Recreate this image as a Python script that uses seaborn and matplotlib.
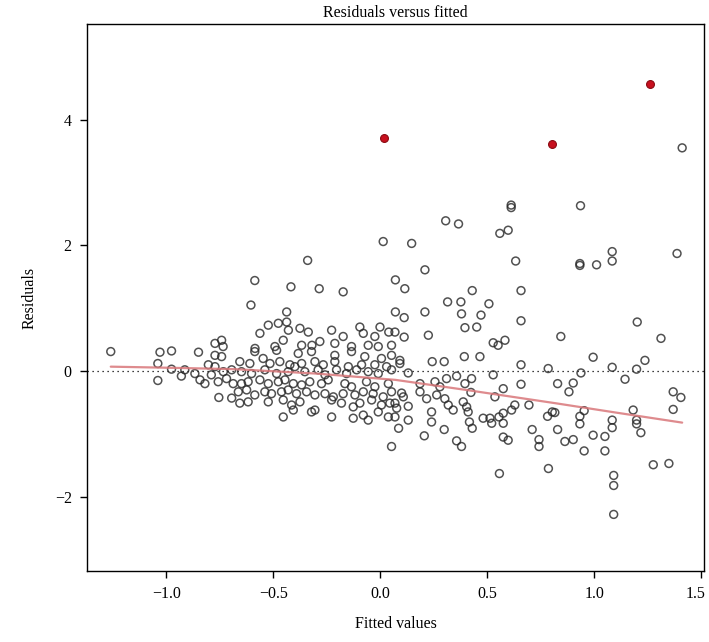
import matplotlib
matplotlib.use("Agg")
import matplotlib.pyplot as plt
import matplotlib.transforms as mtransforms
import seaborn as sns
import pandas as pd

# ---- data ----
fitted = [
    -1.26, -1.03, -0.976, -0.85, -0.773, -0.742, -0.735, -0.773, -0.742, -1.04,
    -1.04, -0.976, -0.93, -0.914, -0.867, -0.843, -0.82, -0.804, -0.79, -0.773,
    -0.758, -0.734, -0.719, -0.695, -0.688, -0.755, -0.695,
    0.013, -0.34, -0.587, -0.418, -0.286, -0.174, -0.605, 0.07, 0.07, -0.438,
    -0.524, -0.477, -0.438, -0.43, -0.376, -0.337, -0.563, -0.228, -0.174, -0.096,
    -0.002, -0.08, -0.026, 0.039, -0.454, -0.586, -0.493, -0.368, -0.32, -0.283,
    -0.213, -0.135, -0.057, -0.01, 0.052,
    0.558, 0.597, 0.146, 0.632, 0.208, 0.114, 0.429, 0.657, 0.314, 0.376,
    0.507, 0.111, 0.208, 0.379, 0.47, 0.657, 0.395, 0.45, 0.068, 0.111,
    0.224, 0.527, 0.582, 0.55,
    0.932, 0.932, 1.01, 1.083, 1.083, 1.386, 1.2, 0.843, 1.311,
    1.41, 0.611, 0.611, 0.935, 0.305, 0.365,
    0.556, 0.785, 1.09, 1.09, 1.09,
    0.994, 1.083, 1.197, 1.236, 1.143, 0.937, 0.828, 0.901, 0.881, 1.368,
    1.404, 1.368, 0.815, 0.952, 0.932, 0.932, 1.181, 1.197, 1.197, 1.217,
    1.083, 1.083, 0.828, 0.994, 1.049, 0.862, 0.901, 0.952, 1.049, 1.275,
    1.348,
    0.091, 0.091, 0.242, 0.298, 0.392, 0.465, 0.657, 0.784, 0.13, 0.309,
    0.356, 0.426, 0.527, 0.657, 0.574, 0.255, 0.185, 0.278, 0.395, 0.185,
    0.216, 0.263, 0.301, 0.099, 0.107, 0.13, 0.535, 0.423, 0.387, 0.403,
    0.317, 0.34, 0.239, 0.41, 0.628, 0.613, 0.574, 0.694, 0.781, 0.803,
    0.48, 0.512, 0.554, 0.13, 0.239, 0.416, 0.52, 0.574, 0.085, 0.298,
    0.429, 0.709, 0.205, 0.574, 0.597, 0.356, 0.379, 0.741, 0.741, 0.068,
    0.076, 0.068,
    -0.587, -0.485, -0.384, -0.322, -0.213, -0.135, -0.073, 0.005, 0.052,
    -0.657, -0.61, -0.548, -0.516, -0.47, -0.423, -0.368, -0.306, -0.267, -0.213,
    -0.15, -0.088, -0.026, 0.029,
    -0.649, -0.602, -0.54, -0.485, -0.431, -0.4, -0.353, -0.291, -0.259, -0.205,
    -0.158, -0.111, -0.057, -0.01, 0.052,
    -0.649, -0.618, -0.563, -0.524, -0.477, -0.446, -0.407, -0.368, -0.33, -0.275,
    -0.244, -0.166, -0.135, -0.065, -0.026, 0.037,
    -0.664, -0.625, -0.587, -0.54, -0.509, -0.462, -0.431, -0.392, -0.345, -0.306,
    -0.259, -0.22, -0.174, -0.119, -0.08, -0.034, 0.013, 0.052,
    -0.657, -0.618, -0.524, -0.454, -0.415, -0.376, -0.306, -0.228, -0.182, -0.127,
    -0.096, -0.041, 0.005, 0.044,
    -0.454, -0.407, -0.322, -0.228, -0.127, -0.08, -0.057, -0.01, 0.037, 0.052,
]
residuals = [
    0.31, 0.30, 0.32, 0.30, 0.44, 0.49, 0.39, 0.25, 0.23, 0.12,
    -0.15, 0.03, -0.08, 0.02, -0.04, -0.14, -0.20, 0.10, -0.06, 0.07,
    -0.17, -0.01, -0.12, 0.02, -0.20, -0.42, -0.43,
    2.06, 1.76, 1.44, 1.34, 1.31, 1.26, 1.05, 1.45, 0.94, 0.94,
    0.73, 0.76, 0.78, 0.65, 0.68, 0.62, 0.60, 0.65, 0.55, 0.70,
    0.70, 0.60, 0.55, 0.62, 0.49, 0.36, 0.39, 0.41, 0.41, 0.47,
    0.44, 0.39, 0.41, 0.39, 0.41,
    2.19, 2.24, 2.03, 1.75, 1.61, 1.31, 1.28, 1.28, 1.10, 1.10,
    1.07, 0.85, 0.94, 0.91, 0.89, 0.80, 0.69, 0.70, 0.62, 0.54,
    0.57, 0.45, 0.49, 0.41,
    1.71, 1.68, 1.69, 1.90, 1.75, 1.87, 0.78, 0.55, 0.52,
    3.55, 2.64, 2.60, 2.63, 2.39, 2.34,
    -1.63, -1.55, -1.66, -1.82, -2.28,
    0.22, 0.06, 0.03, 0.17, -0.13, -0.03, -0.20, -0.19, -0.33, -0.33,
    -0.42, -0.61, -0.66, -0.63, -0.72, -0.84, -0.62, -0.78, -0.84, -0.98,
    -0.78, -0.90, -0.93, -1.02, -1.04, -1.12, -1.09, -1.27, -1.27, -1.49,
    -1.47,
    0.17, 0.12, 0.15, 0.15, 0.23, 0.23, 0.10, 0.04, -0.03, -0.12,
    -0.08, -0.12, -0.06, -0.21, -0.28, -0.17, -0.20, -0.25, -0.20, -0.33,
    -0.44, -0.38, -0.44, -0.35, -0.41, -0.56, -0.41, -0.34, -0.49, -0.57,
    -0.54, -0.62, -0.65, -0.65, -0.54, -0.62, -0.67, -0.54, -0.72, -0.65,
    -0.75, -0.75, -0.73, -0.78, -0.81, -0.81, -0.83, -0.83, -0.91, -0.93,
    -0.91, -0.93, -1.03, -1.05, -1.10, -1.11, -1.20, -1.09, -1.20, -0.51,
    -0.59, -0.73,
    0.31, 0.33, 0.28, 0.31, 0.25, 0.31, 0.23, 0.20, 0.25,
    0.15, 0.12, 0.20, 0.12, 0.15, 0.10, 0.12, 0.15, 0.10, 0.15,
    0.07, 0.10, 0.10, 0.07,
    -0.01, -0.04, 0.02, -0.04, -0.01, 0.07, -0.01, 0.02, -0.06, 0.02,
    -0.04, 0.02, -0.01, -0.04, 0.02,
    -0.20, -0.17, -0.14, -0.20, -0.17, -0.14, -0.20, -0.22, -0.17, -0.20,
    -0.14, -0.20, -0.25, -0.17, -0.25, -0.20,
    -0.33, -0.30, -0.38, -0.33, -0.36, -0.33, -0.30, -0.36, -0.33, -0.38,
    -0.36, -0.41, -0.36, -0.38, -0.33, -0.36, -0.41, -0.33,
    -0.51, -0.49, -0.49, -0.46, -0.54, -0.49, -0.62, -0.46, -0.51, -0.57,
    -0.51, -0.46, -0.54, -0.51,
    -0.73, -0.62, -0.65, -0.73, -0.75, -0.70, -0.78, -0.65, -0.73, -1.20,
]

outlier_fitted = [0.017, 0.80, 1.26]
outlier_resid = [3.71, 3.61, 4.56]

smooth_x = [-1.26, -0.95, -0.68, -0.30, 0.07, 0.40, 0.815, 1.10, 1.41]
smooth_y = [0.07, 0.05, 0.03, -0.04, -0.14, -0.30, -0.51, -0.66, -0.82]

xticks = [-1.0, -0.5, 0.0, 0.5, 1.0, 1.5]
xtick_labels = ["\u22121.0", "\u22120.5", "0.0", "0.5", "1.0", "1.5"]
yticks = [-2, 0, 2, 4]
ytick_labels = ["\u22122", "0", "2", "4"]

# ---- plotting ----
sns.set_theme(style="white")
plt.rcParams["font.family"] = ["Liberation Serif", "DejaVu Serif"]
plt.rcParams["axes.unicode_minus"] = True

W, H = 709, 642
fig = plt.figure(figsize=(W / 100, H / 100), dpi=100)
ax = fig.add_axes([87 / W, 1 - 571 / H, (704 - 87) / W, (571 - 24) / H])

df = pd.DataFrame({"fitted": fitted, "resid": residuals})
sns.scatterplot(data=df, x="fitted", y="resid", ax=ax, marker="o", s=32,
                facecolor="none", edgecolor=(0.15, 0.15, 0.15, 0.8), linewidth=1.1,
                legend=False, zorder=3)

ax.axhline(0, color="black", linestyle=(0, (1, 3)), linewidth=0.9, zorder=1)

sm = pd.DataFrame({"x": smooth_x, "y": smooth_y})
sns.lineplot(data=sm, x="x", y="y", ax=ax, color="#d9777a", linewidth=1.6,
             alpha=0.85, zorder=4, sort=True)

od = pd.DataFrame({"fitted": outlier_fitted, "resid": outlier_resid})
sns.scatterplot(data=od, x="fitted", y="resid", ax=ax, marker="o", s=32,
                color="#c8101e", edgecolor="#8a0a12", linewidth=0.8,
                legend=False, zorder=5)

ax.set_xlim(-1.371, 1.512)
ax.set_ylim(-3.18, 5.52)
ax.set_xticks(xticks)
ax.set_xticklabels(xtick_labels)
ax.set_yticks(yticks)
ax.set_yticklabels(ytick_labels)
ax.tick_params(axis="both", direction="out", length=5, width=1, color="black",
               labelsize=11.5, labelcolor="black", pad=6, bottom=True, left=True)
for sp in ax.spines.values():
    sp.set_color("black")
    sp.set_linewidth(1.0)

# keep the last x tick label inside the figure
last = ax.get_xticklabels()[-1]
last.set_transform(last.get_transform() +
                   mtransforms.ScaledTranslation(-6 / 100, 0, fig.dpi_scale_trans))

ax.set_xlabel("Fitted values", fontsize=11.5, color="black", labelpad=10)
ax.set_ylabel("Residuals", fontsize=11.5, color="black", labelpad=12)
ax.set_title("Residuals versus fitted", fontsize=11.5, color="black", pad=5)

fig.savefig("out.png", dpi=100)
